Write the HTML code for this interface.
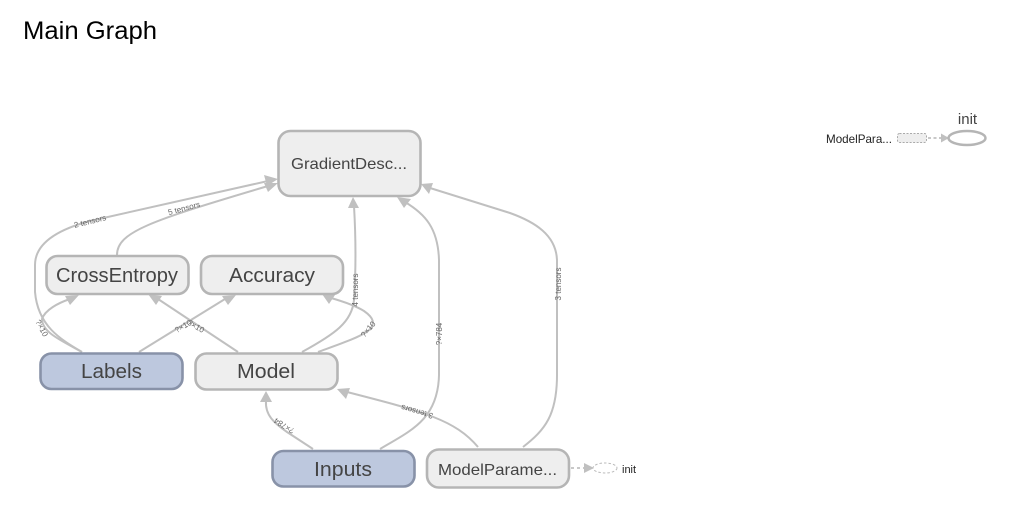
<!DOCTYPE html>
<html>
<head>
<meta charset="utf-8">
<style>
html,body{margin:0;padding:0;background:#fff;width:1024px;height:532px;overflow:hidden}
svg{display:block;font-family:"Liberation Sans",sans-serif;filter:blur(0.35px)}
.e{fill:none;stroke:#c0c0c0;stroke-width:2}
.a{fill:#c0c0c0;stroke:none}
.n{fill:#eeeeee;stroke:#b5b5b5;stroke-width:2.6}
.i{fill:#bdc8de;stroke:#8892a8;stroke-width:2.6}
.t{fill:#444;text-anchor:middle}
.l{fill:#666;font-size:8px;text-anchor:middle}
</style>
</head>
<body>
<svg width="1024" height="532" viewBox="0 0 1024 532" xmlns="http://www.w3.org/2000/svg">
<text x="23" y="39" font-size="25" fill="#000" textLength="134" lengthAdjust="spacingAndGlyphs">Main Graph</text>

<!-- edges -->
<path class="e" d="M82 352C60 339 38 326 35 292L35 265C35 242 60 229 90 221L268 181"/>
<path class="e" d="M117 255C117 232 150 221 268 186"/>
<path class="e" d="M82 352C60 340 42 332 42 319C45 310 58 303 70 299"/>
<path class="e" d="M139 352L225 299"/>
<path class="e" d="M238 352L158 299"/>
<path class="e" d="M302 352C335 334 352 322 354 300C356 270 356 240 354 206"/>
<path class="e" d="M318 352C340 344 358 338 368 331C376 324 374 318 364 311C356 306 345 302 331 298"/>
<path class="e" d="M380 449C410 431 438 420 439 375L439 260C438 228 425 214 405 202"/>
<path class="e" d="M523 447C545 430 557 415 557 375L557 260C556 235 535 222 510 213L430 188"/>
<path class="e" d="M478 447C455 420 425 412 347 392"/>
<path class="e" d="M313 449L287 432C274 423 265 415 266 401"/>

<!-- arrowheads -->
<polygon class="a" points="278,179 264,175 267,186"/>
<polygon class="a" points="278,183 264,183 268,192"/>
<polygon class="a" points="79,295 65,296 70,305"/>
<polygon class="a" points="236,295 222,296 228,305"/>
<polygon class="a" points="148,294 156,305 162,296"/>
<polygon class="a" points="353,197 348,208 359,208"/>
<polygon class="a" points="322,294 329,304 335,295"/>
<polygon class="a" points="397,197 404,208 411,199"/>
<polygon class="a" points="421,184 429,194 433,183"/>
<polygon class="a" points="337,389 346,399 350,388"/>
<polygon class="a" points="266,391 260,402 272,402"/>

<!-- edge labels -->
<text class="l" transform="translate(90 221) rotate(-14)" y="3">2 tensors</text>
<text class="l" transform="translate(184 208) rotate(-15)" y="3">5 tensors</text>
<text class="l" transform="translate(42 328) rotate(62)" y="3">?×10</text>
<text class="l" transform="translate(183 326) rotate(-30)" y="3">?×10</text>
<text class="l" transform="translate(196 326) rotate(30)" y="3">?×10</text>
<text class="l" transform="translate(355 290) rotate(-90)" y="3">4 tensors</text>
<text class="l" transform="translate(368 329) rotate(-50)" y="3">?×10</text>
<text class="l" transform="translate(439 334) rotate(-90)" y="3">?×784</text>
<text class="l" transform="translate(558 284) rotate(-90)" y="3">3 tensors</text>
<text class="l" transform="translate(417 412) rotate(196)" y="3">3 tensors</text>
<text class="l" transform="translate(284 426) rotate(212)" y="3">?×784</text>

<!-- nodes -->
<rect class="n" x="278.500" y="131" width="142" height="65" rx="12"/>
<text class="t" x="349" y="169" font-size="16" textLength="116" lengthAdjust="spacingAndGlyphs">GradientDesc...</text>
<rect class="n" x="46.500" y="256" width="142" height="38" rx="11"/>
<text class="t" x="117" y="282" font-size="20" textLength="122" lengthAdjust="spacingAndGlyphs">CrossEntropy</text>
<rect class="n" x="201" y="256" width="142" height="38" rx="11"/>
<text class="t" x="272" y="282" font-size="20" textLength="86" lengthAdjust="spacingAndGlyphs">Accuracy</text>
<rect class="i" x="40.500" y="353.500" width="142" height="35.500" rx="11"/>
<text class="t" x="111.500" y="378" font-size="20" textLength="61" lengthAdjust="spacingAndGlyphs">Labels</text>
<rect class="n" x="195.500" y="353.500" width="142" height="36" rx="11"/>
<text class="t" x="266" y="378" font-size="20" textLength="58" lengthAdjust="spacingAndGlyphs">Model</text>
<rect class="i" x="272.500" y="451" width="142" height="35.500" rx="11"/>
<text class="t" x="343" y="476" font-size="20" textLength="58" lengthAdjust="spacingAndGlyphs">Inputs</text>
<rect class="n" x="427" y="449.500" width="142" height="38" rx="12"/>
<text class="t" x="497.500" y="475" font-size="16" textLength="119" lengthAdjust="spacingAndGlyphs">ModelParame...</text>

<!-- init inline -->
<line x1="571" y1="468" x2="586" y2="468" stroke="#b5b5b5" stroke-width="1.500" stroke-dasharray="3 3"/>
<polygon class="a" points="584,463 584,473 594,468"/>
<ellipse cx="605" cy="468" rx="12" ry="5" fill="#fff" stroke="#bbb" stroke-width="1" stroke-dasharray="2.500 2"/>
<text x="622" y="473" font-size="11" fill="#222">init</text>

<!-- detached panel -->
<text x="826" y="143" font-size="12" fill="#222" textLength="66" lengthAdjust="spacingAndGlyphs">ModelPara...</text>
<rect x="897.500" y="133.500" width="29" height="9" rx="2" fill="#eee" stroke="#aaa" stroke-width="1" stroke-dasharray="2 1.500"/>
<line x1="928" y1="138" x2="942" y2="138" stroke="#b5b5b5" stroke-width="1.500" stroke-dasharray="3 2.500"/>
<polygon class="a" points="941,133.500 941,142.500 949,138"/>
<ellipse cx="967" cy="138" rx="18.500" ry="7" fill="#fff" stroke="#b5b5b5" stroke-width="2.500"/>
<text x="967.500" y="124" font-size="15" fill="#444" text-anchor="middle">init</text>
</svg>
</body>
</html>
